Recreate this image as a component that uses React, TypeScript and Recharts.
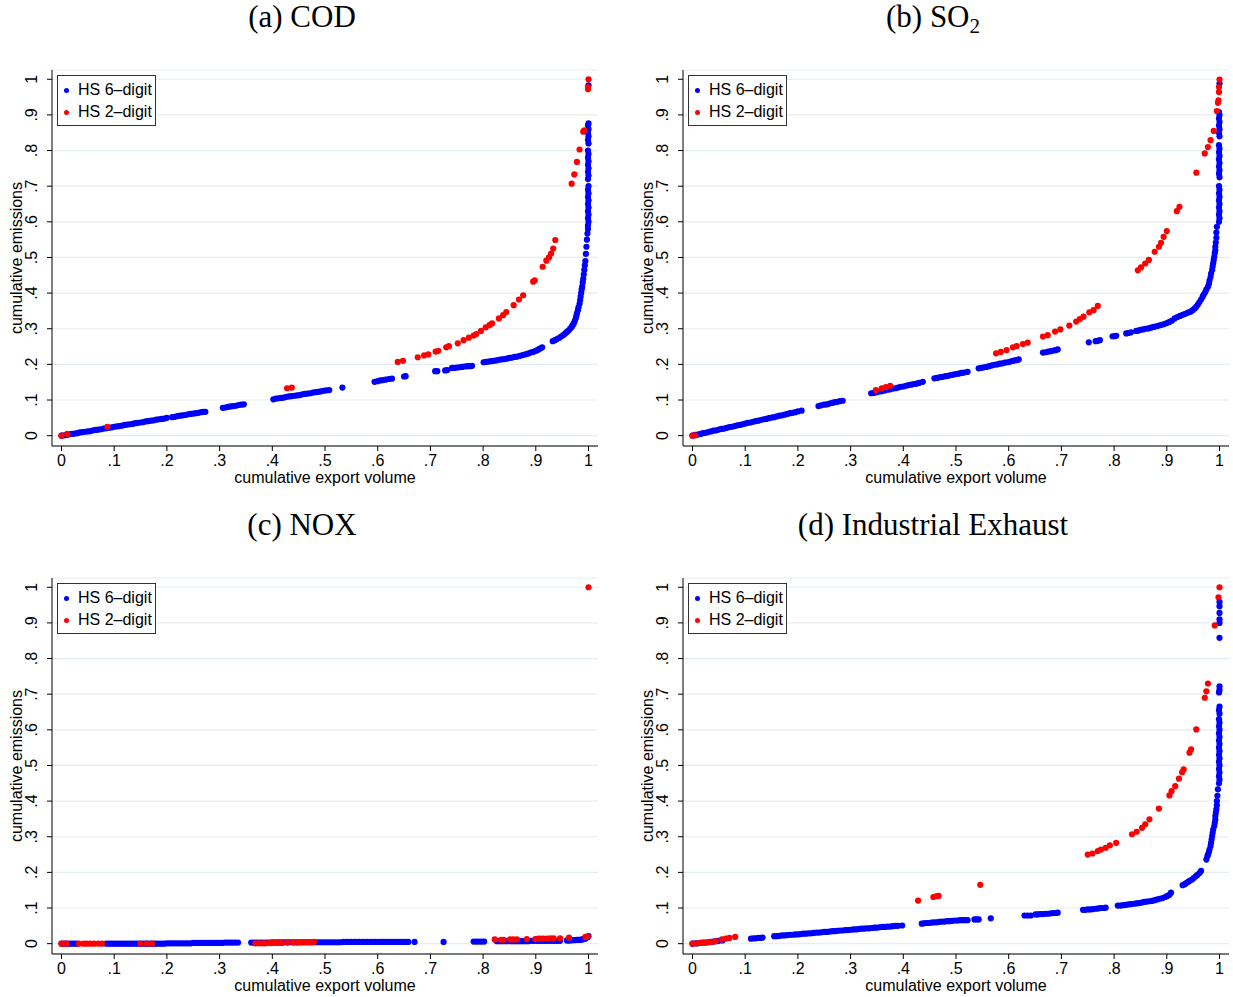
import React from 'react';
import { ScatterChart, Scatter, XAxis, YAxis, CartesianGrid } from 'recharts';

type Pt = [number, number];

// tick values and their Stata-style labels
const axisTicks = [0, 0.1, 0.2, 0.3, 0.4, 0.5, 0.6, 0.7, 0.8, 0.9, 1];
const tickLabels = ['0', '.1', '.2', '.3', '.4', '.5', '.6', '.7', '.8', '.9', '1'];

const panelTitles = ['(a) COD', '(b) SO', '(c) NOX', '(d) Industrial Exhaust'];
const panelSubs = ['', '2', '', ''];
const seriesNames = ['HS 6\u2013digit', 'HS 2\u2013digit'];

// (a) COD
const codFine: Pt[] = [
  [0, 0], [.005, .001], [.01, .002], [.015, .004], [.02, .005], [.025, .006], [.03, .007], [.035, .009], [.04, .01],
  [.045, .011], [.05, .012], [.055, .013], [.06, .015], [.065, .016], [.07, .017], [.075, .018], [.08, .02], [.085, .021],
  [.09, .022], [.095, .023], [.1, .025], [.105, .026], [.11, .027], [.115, .028], [.12, .03], [.125, .031], [.13, .032],
  [.135, .033], [.14, .035], [.145, .036], [.15, .037], [.155, .038], [.16, .04], [.165, .041], [.17, .042], [.175, .043],
  [.18, .045], [.185, .046], [.19, .047], [.195, .048], [.2, .05], [.21, .052], [.215, .053], [.22, .055], [.225, .056],
  [.23, .057], [.235, .058], [.24, .06], [.245, .061], [.25, .062], [.255, .063], [.26, .064], [.265, .066], [.27, .067],
  [.273, .067],
  [.306, .078], [.311, .079], [.316, .081], [.321, .082], [.326, .083], [.331, .084], [.336, .086], [.341, .087], [.346, .088],
  [.402, .102], [.407, .104], [.412, .105], [.417, .106], [.422, .107], [.427, .109], [.432, .11], [.437, .111], [.442, .112],
  [.447, .113], [.452, .114], [.457, .116], [.462, .117], [.467, .118], [.472, .119], [.477, .121], [.482, .122], [.487, .123],
  [.492, .124], [.497, .126], [.502, .127], [.508, .128], [.533, .135],
  [.594, .151], [.6, .153], [.605, .155], [.61, .156], [.615, .157], [.621, .159], [.627, .16], [.65, .166], [.653, .167],
  [.709, .181], [.713, .181], [.728, .183], [.732, .184], [.741, .19], [.745, .19], [.75, .191], [.755, .192], [.76, .193],
  [.765, .194], [.77, .195], [.775, .195], [.779, .196],
  [.801, .206], [.805, .207], [.81, .208], [.815, .209], [.82, .21], [.825, .211], [.83, .213], [.835, .214], [.84, .215],
  [.845, .216], [.85, .218], [.855, .219], [.86, .221], [.865, .222], [.87, .224], [.875, .226], [.88, .228], [.885, .23],
  [.89, .233], [.895, .235], [.9, .238], [.903, .24], [.906, .243], [.909, .245], [.912, .248],
  [.932, .265], [.936, .268], [.94, .271], [.944, .274], [.948, .278], [.952, .282], [.956, .287], [.959, .291], [.962, .295],
  [.965, .3], [.968, .305], [.97, .31], [.972, .315], [.974, .322], [.976, .33], [.977, .336], [.978, .343], [.98, .352],
  [.981, .36], [.983, .37], [.984, .38], [.985, .39], [.986, .4], [.987, .41], [.988, .418], [.989, .43], [.99, .44],
  [.991, .452], [.992, .465], [.993, .478], [.994, .49], [.995, .51], [.996, .53], [.997, .55], [.998, .567],
  [.999, .58], [.999, .59], [1, .6], [.999, .61], [1, .62], [.999, .63], [1, .64], [.999, .65], [1, .66], [.999, .67],
  [1, .68], [.999, .69], [1, .7], [.999, .72], [1, .73], [.999, .74], [1, .75], [.999, .76], [1, .77], [.999, .78],
  [1, .79], [.999, .8], [1, .82], [.999, .83], [1, .84], [.999, .85], [1, .86], [.999, .87], [1, .876], [1, .983],
];
const codCoarse: Pt[] = [
  [0, 0], [.011, .005], [.087, .025], [.428, .133], [.437, .135], [.638, .207], [.648, .21], [.676, .22], [.688, .225],
  [.696, .228], [.71, .236], [.715, .238], [.73, .248], [.735, .251], [.752, .259], [.763, .268], [.773, .275], [.782, .281],
  [.787, .285], [.796, .294], [.805, .304], [.812, .31], [.817, .315], [.83, .329], [.838, .338], [.844, .347], [.858, .366],
  [.868, .382], [.876, .394], [.895, .432], [.898, .436], [.913, .474], [.92, .491], [.925, .5], [.929, .511], [.933, .525],
  [.937, .549], [.968, .707], [.973, .733], [.978, .768], [.983, .803], [.99, .853], [.992, .857], [.999, .972], [.999, .978],
  [1, 1],
];

// (b) SO2
const so2Fine: Pt[] = [
  [0, 0], [.005, .002], [.01, .003], [.015, .005], [.02, .007], [.025, .008], [.03, .01], [.035, .012], [.04, .014],
  [.045, .015], [.05, .017], [.055, .019], [.06, .02], [.065, .022], [.07, .024], [.075, .025], [.08, .027], [.085, .029],
  [.09, .03], [.095, .032], [.1, .034], [.105, .036], [.11, .037], [.115, .039], [.12, .041], [.125, .042], [.13, .044],
  [.135, .046], [.14, .047], [.145, .049], [.15, .051], [.155, .052], [.16, .054], [.165, .056], [.17, .057], [.175, .059],
  [.18, .061], [.185, .063], [.19, .064], [.195, .066], [.2, .068], [.207, .07],
  [.239, .083], [.244, .085], [.25, .087], [.255, .088], [.26, .09], [.265, .092], [.27, .094], [.275, .095], [.28, .097],
  [.285, .098],
  [.339, .119], [.344, .12], [.35, .122], [.355, .124], [.36, .125], [.365, .127], [.37, .129], [.375, .13], [.38, .132],
  [.385, .133], [.39, .135], [.395, .137], [.4, .138], [.405, .14], [.41, .142], [.415, .143], [.42, .145], [.425, .146],
  [.43, .148], [.437, .151],
  [.459, .161], [.464, .162], [.47, .164], [.475, .165], [.48, .167], [.485, .168], [.49, .17], [.495, .171], [.5, .173],
  [.505, .174], [.51, .176], [.515, .177], [.522, .179],
  [.543, .189], [.548, .19], [.553, .192], [.558, .193], [.563, .195], [.568, .197], [.573, .199], [.578, .2], [.583, .202],
  [.588, .203], [.593, .205], [.598, .206], [.603, .208], [.608, .21], [.612, .211], [.616, .212], [.619, .214],
  [.665, .233], [.67, .234], [.675, .236], [.68, .237], [.685, .239], [.689, .24], [.693, .242],
  [.752, .262], [.765, .265], [.769, .266], [.773, .268], [.797, .279], [.801, .279], [.804, .28], [.823, .287], [.827, .288],
  [.832, .29],
  [.842, .294], [.846, .295], [.85, .297], [.855, .298], [.86, .3], [.865, .301], [.87, .303], [.875, .305], [.88, .307],
  [.885, .309], [.89, .311], [.895, .313], [.9, .316], [.905, .319], [.91, .323], [.915, .329], [.92, .333], [.925, .336],
  [.93, .339], [.935, .342], [.94, .345], [.945, .348], [.949, .352], [.953, .357],
  [.956, .362], [.959, .368], [.962, .375], [.965, .382], [.968, .39], [.97, .396], [.973, .403], [.975, .41], [.978, .418],
  [.98, .426], [.981, .435], [.983, .445], [.984, .455], [.986, .465], [.987, .475], [.988, .484], [.989, .493], [.99, .502],
  [.991, .512], [.992, .52], [.992, .53], [.993, .542], [.994, .555], [.994, .57], [.995, .586],
  [.999, .6], [1, .61], [.999, .62], [1, .63], [.999, .64], [1, .65], [.999, .66], [1, .67], [.999, .68], [1, .69],
  [.999, .7], [1, .725], [.999, .735], [1, .745], [.999, .755], [1, .765], [.999, .775], [1, .785], [.999, .795], [1, .805],
  [.999, .815], [1, .84], [.999, .85], [1, .86], [.999, .87], [1, .88], [.999, .89], [1, .9], [.999, .908], [1, .988],
];
const so2Coarse: Pt[] = [
  [0, 0], [.005, .001], [.348, .128], [.359, .133], [.367, .136], [.375, .14],
  [.576, .231], [.585, .235], [.596, .24], [.608, .248], [.615, .251], [.627, .257], [.636, .261], [.665, .278], [.674, .282],
  [.688, .292], [.698, .298], [.715, .309], [.728, .32], [.735, .327], [.742, .334], [.753, .346], [.761, .352], [.769, .364],
  [.845, .464], [.851, .472], [.859, .483], [.866, .493], [.877, .516], [.885, .53], [.889, .541], [.894, .558], [.9, .574],
  [.919, .63], [.924, .642], [.956, .738], [.972, .792], [.978, .81], [.983, .829], [.989, .855], [.995, .911], [.997, .934],
  [.998, .941], [.999, .964], [.999, .978], [1, .999],
];

// (c) NOX
const noxFine: Pt[] = [
  [0, 0], [.005, 0], [.01, 0], [.015, 0], [.02, 0], [.025, 0], [.03, 0],
  [.085, 0], [.09, 0], [.095, 0], [.1, 0], [.105, 0], [.11, 0], [.115, 0], [.12, 0], [.125, 0], [.13, 0], [.135, 0],
  [.14, 0], [.145, 0], [.15, 0], [.155, 0], [.16, 0], [.165, 0], [.17, 0], [.175, 0], [.18, 0], [.185, 0], [.19, 0],
  [.195, 0], [.2, .001], [.205, .001], [.21, .001], [.215, .001], [.22, .001], [.225, .001], [.23, .001], [.235, .001],
  [.24, .001], [.245, .001], [.25, .002], [.255, .002], [.26, .002], [.265, .002], [.27, .002], [.275, .002], [.28, .002],
  [.285, .002], [.29, .002], [.295, .002], [.3, .002], [.305, .002], [.31, .003], [.315, .003], [.32, .003], [.325, .003],
  [.33, .003], [.335, .003],
  [.36, .003], [.365, .003], [.37, .003], [.375, .003], [.38, .003], [.385, .003], [.39, .003], [.395, .003], [.4, .004],
  [.405, .004], [.41, .004], [.415, .004], [.42, .004], [.425, .004], [.43, .004], [.435, .004], [.44, .004], [.445, .004],
  [.45, .004], [.455, .004], [.46, .004], [.465, .004], [.47, .004], [.475, .004], [.48, .004], [.485, .004], [.49, .004],
  [.495, .004], [.5, .004], [.505, .004], [.51, .004], [.515, .004], [.52, .004], [.525, .004], [.53, .004], [.535, .005],
  [.54, .005], [.545, .005], [.55, .005], [.555, .005], [.56, .005], [.565, .005], [.57, .005], [.575, .005], [.58, .005],
  [.585, .005], [.59, .005], [.595, .005], [.6, .005], [.605, .005], [.61, .005], [.615, .005], [.62, .005], [.625, .005],
  [.63, .005], [.635, .005], [.64, .005], [.645, .005], [.65, .005], [.655, .005], [.658, .005], [.67, .005], [.725, .005],
  [.782, .006], [.787, .006], [.792, .006], [.797, .006], [.802, .006],
  [.826, .007], [.831, .007], [.836, .007], [.841, .007], [.846, .007], [.851, .007], [.856, .007], [.861, .007], [.866, .007],
  [.871, .007], [.876, .007], [.881, .007], [.886, .007], [.891, .008], [.896, .008], [.901, .008], [.906, .008], [.911, .008],
  [.916, .008], [.921, .008], [.926, .008], [.931, .008], [.936, .008], [.941, .008], [.946, .008],
  [.959, .009], [.962, .009], [.965, .009], [.968, .01], [.97, .01], [.973, .01], [.975, .01], [.978, .011], [.98, .011],
  [.983, .011], [.985, .011], [.988, .012], [.99, .013], [.993, .014], [.995, .015], [.998, .018], [1, .021],
];
const noxCoarse: Pt[] = [
  [0, 0], [.005, 0], [.01, 0], [.033, 0], [.042, 0], [.048, 0], [.055, 0], [.062, 0], [.07, 0], [.077, 0], [.15, 0],
  [.162, 0], [.172, 0], [.368, .001], [.375, .001], [.382, .001], [.387, .001], [.396, .002], [.403, .002], [.41, .002],
  [.418, .002], [.429, .003], [.44, .003], [.447, .003], [.455, .004], [.46, .004], [.466, .004], [.472, .004], [.479, .005],
  [.822, .012], [.834, .011], [.839, .011], [.851, .012], [.857, .012], [.864, .012], [.883, .013], [.899, .013], [.905, .014],
  [.91, .014], [.915, .014], [.922, .014], [.928, .015], [.934, .015], [.946, .015], [.963, .017], [.994, .019], [.998, .02],
  [1, 1],
];

// (d) Industrial Exhaust
const exhFine: Pt[] = [
  [0, 0], [.005, .001], [.01, .001], [.015, .002], [.02, .003], [.025, .003], [.03, .004], [.035, .005], [.04, .006],
  [.045, .007], [.05, .008], [.057, .009],
  [.111, .014], [.116, .015], [.12, .015], [.125, .016], [.13, .016], [.133, .017],
  [.155, .021], [.16, .021], [.165, .022], [.17, .023], [.175, .023], [.18, .024], [.185, .025], [.19, .025], [.195, .026],
  [.2, .026], [.205, .027], [.21, .028], [.215, .028], [.22, .029], [.225, .029], [.23, .03], [.235, .031], [.24, .031],
  [.245, .032], [.25, .033], [.255, .033], [.26, .034], [.265, .035], [.27, .035], [.275, .036], [.28, .037], [.285, .037],
  [.29, .038], [.295, .038], [.3, .039], [.305, .04], [.31, .04], [.315, .041], [.32, .042], [.325, .042], [.33, .043],
  [.335, .043], [.34, .044], [.345, .045], [.35, .045], [.355, .046], [.36, .047], [.365, .047], [.37, .048], [.375, .048],
  [.38, .049], [.385, .05], [.39, .05], [.398, .051],
  [.435, .056], [.439, .057], [.443, .058], [.448, .058], [.453, .059], [.458, .06], [.463, .06], [.468, .061], [.473, .062],
  [.478, .062], [.483, .063], [.488, .063], [.493, .064], [.498, .065], [.503, .065], [.508, .066], [.513, .066], [.518, .066],
  [.522, .066], [.535, .068], [.539, .068], [.543, .068], [.566, .071],
  [.63, .079], [.636, .079], [.642, .079], [.651, .082], [.655, .082], [.66, .083], [.665, .083], [.67, .084], [.675, .084],
  [.68, .085], [.685, .086], [.69, .086], [.693, .087],
  [.741, .095], [.745, .095], [.75, .096], [.755, .096], [.76, .097], [.765, .098], [.77, .099], [.775, .1], [.78, .1],
  [.784, .101],
  [.807, .107], [.812, .107], [.817, .108], [.822, .109], [.827, .11], [.832, .111], [.837, .112], [.842, .113], [.847, .114],
  [.852, .115], [.857, .117], [.862, .118], [.867, .119], [.872, .12], [.877, .122], [.882, .124], [.887, .126], [.892, .128],
  [.897, .131], [.901, .134], [.905, .137], [.908, .143],
  [.93, .164], [.934, .167], [.937, .17], [.941, .174], [.944, .177], [.948, .18], [.951, .184], [.955, .189], [.958, .193],
  [.962, .198], [.965, .204],
  [.975, .236], [.977, .245], [.978, .25], [.98, .257], [.981, .264], [.983, .274], [.984, .283], [.985, .292], [.986, .302],
  [.987, .311], [.988, .32], [.99, .33], [.991, .339], [.992, .348], [.992, .358], [.993, .367], [.994, .377], [.995, .388],
  [.995, .4], [.996, .415], [.997, .433],
  [.999, .45], [1, .46], [.999, .47], [1, .48], [.999, .49], [1, .5], [.999, .51], [1, .52], [.999, .53], [1, .54],
  [.999, .55], [1, .56], [.999, .57], [1, .58], [.999, .59], [1, .6], [.999, .61], [1, .62], [.999, .63], [1, .645],
  [.999, .655], [1, .665], [.999, .705], [1, .712], [1, .722],
  [1, .858], [1, .9], [1, .91], [1, .928], [1, .947], [1, .959],
];
const exhCoarse: Pt[] = [
  [0, 0], [.008, .001], [.015, .002], [.022, .003], [.03, .004], [.037, .005], [.044, .007], [.056, .012], [.063, .014],
  [.07, .016], [.081, .019], [.428, .121], [.457, .131], [.462, .133], [.467, .134], [.546, .165],
  [.75, .25], [.759, .253], [.769, .26], [.775, .264], [.784, .269], [.792, .276], [.804, .283], [.834, .307], [.843, .314],
  [.853, .325], [.859, .335], [.867, .349], [.885, .379], [.905, .416], [.909, .428], [.916, .442], [.923, .463], [.929, .481],
  [.932, .489], [.943, .536], [.946, .545], [.956, .601], [.972, .69], [.975, .708], [.978, .73], [.991, .893], [.998, .972],
  [1, 1],
];

const fineSets = [codFine, so2Fine, noxFine, exhFine];
const coarseSets = [codCoarse, so2Coarse, noxCoarse, exhCoarse];

const BLUE = '#0000ff';
const RED = '#ff0000';
const SANS = '"Liberation Sans", Arial, sans-serif';
const SERIF = '"Liberation Serif", "Times New Roman", serif';

const CHART_W = 615;
const CHART_H = 500;
const PLOT_LEFT = 52;
const PLOT_TOP = 70;
const PLOT_BOTTOM = 446;
const PLOT_RIGHT = 598;

const toObjs = (pts: Pt[]) => pts.map(([x, y]) => ({ x, y }));
const fmt = (v: number) => tickLabels[Math.round(v * 10)] ?? '';

const dot = (color: string) => (props: any) => (
  <circle cx={props.cx} cy={props.cy} r={3.1} fill={color} />
);

const YTick = (props: any) => {
  const { x, y, payload } = props;
  const bx = x - 8;
  return (
    <text x={bx} y={y} transform={`rotate(-90 ${bx} ${y})`} textAnchor="middle" fontSize={16} fontFamily={SANS} fill="#000">
      {fmt(payload.value)}
    </text>
  );
};

interface PanelProps {
  index: number;
  left: number;
  top: number;
}

const Panel: React.FC<PanelProps> = ({ index, left, top }) => {
  const fine = toObjs(fineSets[index]);
  const coarse = toObjs(coarseSets[index]);
  const plotMidX = (PLOT_LEFT + PLOT_RIGHT) / 2;
  const plotMidY = (PLOT_TOP + PLOT_BOTTOM) / 2;

  return (
    <div style={{ position: 'absolute', left, top, width: CHART_W, height: CHART_H }}>
      <div
        style={{
          position: 'absolute', left: 0, width: 604, top: 1, textAlign: 'center',
          fontFamily: SERIF, fontSize: 31, lineHeight: '31px', color: '#000', whiteSpace: 'nowrap',
        }}
      >
        {panelTitles[index]}
        {panelSubs[index] && <sub style={{ fontSize: 21, verticalAlign: '-6px' }}>{panelSubs[index]}</sub>}
      </div>

      <ScatterChart
        width={CHART_W}
        height={CHART_H}
        margin={{ top: PLOT_TOP, right: CHART_W - PLOT_RIGHT, bottom: 0, left: 0 }}
      >
        <CartesianGrid horizontal vertical={false} stroke="#e4edf0" strokeWidth={1.2} />
        <XAxis
          type="number"
          dataKey="x"
          domain={[-0.018, 1.018]}
          ticks={axisTicks}
          tickFormatter={fmt}
          height={CHART_H - PLOT_BOTTOM}
          tickSize={5}
          tickMargin={4}
          interval={0}
          axisLine={{ stroke: '#000' }}
          tickLine={{ stroke: '#000' }}
          tick={{ fontSize: 16, fontFamily: SANS, fill: '#000' }}
        />
        <YAxis
          type="number"
          dataKey="y"
          domain={[-0.029, 1.026]}
          ticks={axisTicks}
          width={PLOT_LEFT}
          tickSize={5}
          tickMargin={2}
          interval={0}
          axisLine={{ stroke: '#000' }}
          tickLine={{ stroke: '#000' }}
          tick={<YTick />}
        />
        <Scatter name={seriesNames[0]} data={fine} shape={dot(BLUE)} isAnimationActive={false} />
        <Scatter name={seriesNames[1]} data={coarse} shape={dot(RED)} isAnimationActive={false} />
      </ScatterChart>

      <div
        style={{
          position: 'absolute', left: 17, top: plotMidY, transform: 'translate(-50%, -50%) rotate(-90deg)',
          fontFamily: SANS, fontSize: 16, lineHeight: '16px', whiteSpace: 'nowrap', color: '#000',
        }}
      >
        cumulative emissions
      </div>
      <div
        style={{
          position: 'absolute', left: plotMidX, top: 478, transform: 'translate(-50%, -50%)',
          fontFamily: SANS, fontSize: 16, lineHeight: '16px', whiteSpace: 'nowrap', color: '#000',
        }}
      >
        cumulative export volume
      </div>

      <div
        style={{
          position: 'absolute', left: PLOT_LEFT + 5, top: PLOT_TOP + 5, width: 99, height: 51,
          border: '1px solid #333', background: '#fff', boxSizing: 'border-box',
        }}
      >
        {seriesNames.map((name, i) => (
          <div key={name} style={{ position: 'absolute', left: 0, top: 6 + i * 22, height: 16, width: 99 }}>
            <span
              style={{
                position: 'absolute', left: 6, top: 5.5, width: 5, height: 5, borderRadius: '50%',
                background: i === 0 ? BLUE : RED,
              }}
            />
            <span
              style={{
                position: 'absolute', left: 20, top: 0, fontFamily: SANS, fontSize: 16, lineHeight: '16px',
                whiteSpace: 'nowrap', color: '#000',
              }}
            >
              {name}
            </span>
          </div>
        ))}
      </div>
    </div>
  );
};

const panelLeft = [0, 631, 0, 631];
const panelTop = [0, 0, 508, 508];

const App: React.FC = () => (
  <div style={{ position: 'absolute', left: 0, top: 0, width: 1233, height: 997, background: '#fff' }}>
    {panelTitles.map((t, i) => (
      <Panel key={t} index={i} left={panelLeft[i]} top={panelTop[i]} />
    ))}
  </div>
);

export default App;
